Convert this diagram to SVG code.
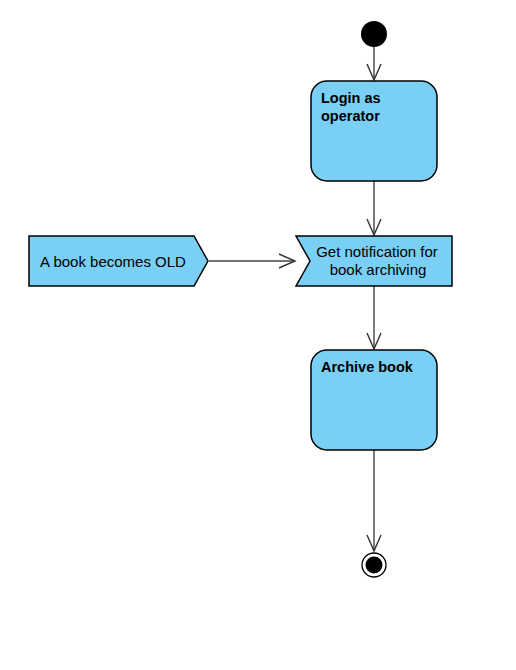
<svg xmlns="http://www.w3.org/2000/svg" width="516" height="670" viewBox="0 0 516 670">
<style>
.shape{fill:#7ACFF4;stroke:#000;stroke-width:1.5}
.conn{stroke:#444;stroke-width:1.4;fill:none}
.bold{font-family:"Liberation Sans",Arial,sans-serif;font-size:14.5px;font-weight:bold;fill:#000}
.reg{font-family:"Liberation Sans",Arial,sans-serif;font-size:15px;fill:#000;text-anchor:middle}
</style>
<defs>
<marker id="arr" markerWidth="20" markerHeight="20" refX="18" refY="8" orient="auto" markerUnits="userSpaceOnUse">
<path d="M2,1 L18,8 L2,15" fill="none" stroke="#333" stroke-width="1.4"/>
</marker>
</defs>
<rect width="516" height="670" fill="#fff"/>
<g id="connectors">
<line class="conn" x1="374" y1="47" x2="374" y2="80" marker-end="url(#arr)"/>
<line class="conn" x1="374" y1="181" x2="374" y2="235" marker-end="url(#arr)"/>
<line class="conn" x1="209" y1="261" x2="295" y2="261" marker-end="url(#arr)"/>
<line class="conn" x1="374" y1="286" x2="374" y2="349" marker-end="url(#arr)"/>
<line class="conn" x1="374" y1="450" x2="374" y2="551" marker-end="url(#arr)"/>
</g>
<g id="start">
<circle cx="374" cy="34" r="13" fill="#000"/>
</g>
<g id="login">
<rect class="shape" x="311" y="81" width="126" height="100" rx="16" ry="16"/>
<text class="bold" x="321" y="103">Login as</text>
<text class="bold" x="321" y="121">operator</text>
</g>
<g id="notify">
<polygon class="shape" points="296,236 452,236 452,286 296,286 310,261"/>
<text class="reg" x="377" y="257">Get notification for</text>
<text class="reg" x="378" y="275">book archiving</text>
</g>
<g id="old">
<polygon class="shape" points="29,236 194,236 208,261 194,286 29,286"/>
<text class="reg" x="113" y="267">A book becomes OLD</text>
</g>
<g id="archive">
<rect class="shape" x="311" y="350" width="126" height="100" rx="16" ry="16"/>
<text class="bold" x="321" y="372">Archive book</text>
</g>
<g id="end">
<circle cx="374" cy="565" r="12" fill="#fff" stroke="#000" stroke-width="1.3"/>
<circle cx="374" cy="565" r="8.5" fill="#000"/>
</g>
</svg>
